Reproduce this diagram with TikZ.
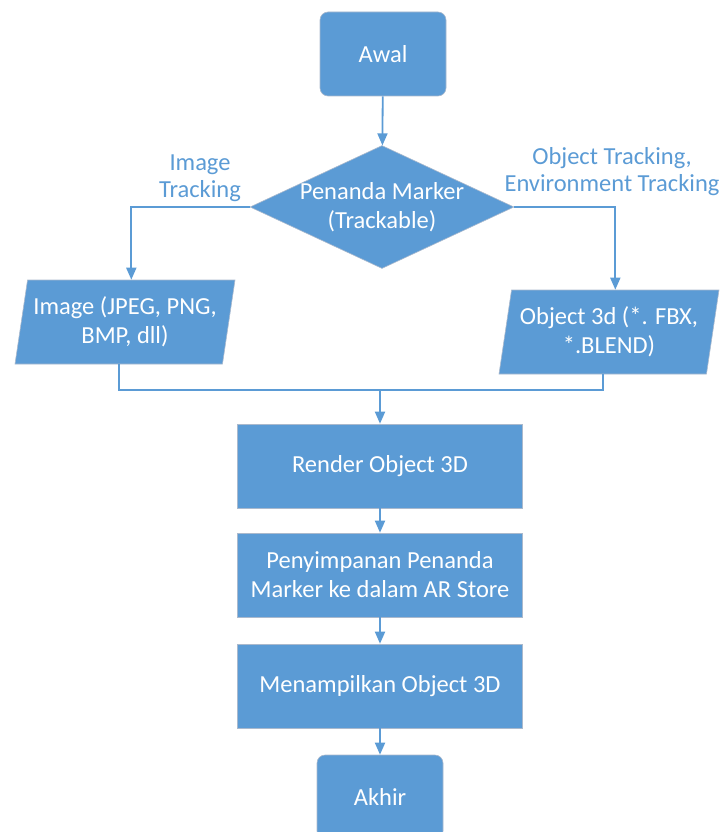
\documentclass[tikz,border=0pt]{standalone}
\usepackage{fontspec}
\setmainfont{Carlito}
\usetikzlibrary{shapes.geometric,arrows.meta,positioning}
\definecolor{boxblue}{RGB}{91,155,213}
\definecolor{edgegray}{RGB}{170,185,205}
\tikzset{
 base/.style={fill=boxblue, draw=edgegray, line width=0.6pt, text=white, font=\fontsize{24.5}{29}\selectfont, align=center, inner sep=0pt},
 terminal/.style={base, rounded corners=8pt, minimum width=126pt, minimum height=84pt},
 process/.style={base, minimum width=285pt, minimum height=84pt},
 decision/.style={base, diamond, minimum width=264pt, minimum height=123pt},
 data/.style={base, trapezium, trapezium left angle=76, trapezium right angle=104, trapezium stretches body, minimum width=220pt, minimum height=84pt},
 flowlabel/.style={text=boxblue, font=\fontsize{24.5}{27}\selectfont, align=center, inner sep=0pt},
 conn/.style={draw=boxblue, line width=1.8pt},
 arr/.style={conn, -{Triangle[length=12pt,width=10pt]}}
}
\begin{document}
\begin{tikzpicture}[x=1pt,y=-1pt]
 \useasboundingbox (0,0) rectangle (721,832);
 % nodes
 \node[terminal] (awal) at (383,54) {Awal};
 \node[decision] (mark) at (382,207) {};
 \node[text=white, font=\fontsize{24.5}{29}\selectfont, align=center] (marktext) at (mark) {Penanda Marker\\(Trackable)};
 \node[data] (img) at (125,322) {Image (JPEG, PNG,\\BMP, dll)};
 \node[data] (obj) at (609,332) {Object 3d (*. FBX,\\*.BLEND)};
 \node[process] (render) at (380,466) {Render Object 3D};
 \node[process] (store) at (380,575) {Penyimpanan Penanda\\Marker ke dalam AR Store};
 \node[process] (show) at (380,686) {Menampilkan Object 3D};
 \node[terminal] (akhir) at (380,797) {Akhir};

 % labels
 \node[flowlabel] (limg) at (200,178) {Image\\Tracking};
 \node[flowlabel] (lobj) at (612,172) {Object Tracking,\\Environment Tracking};

 % coordinates
 \coordinate (merge) at (380,390);

 % connectors
 \draw[arr] (awal) -- (mark);
 \draw[arr] (mark.west) -| (img.top side);
 \draw[arr] (mark.east) -| (obj.top side);
 \draw[conn] (img.bottom side) |- (merge);
 \draw[conn] (obj.bottom side) |- (merge);
 \draw[arr] (merge) -- (render);
 \foreach \a/\b in {render/store, store/show, show/akhir} {
  \draw[arr] (\a) -- (\b);
 };
\end{tikzpicture}
\end{document}
